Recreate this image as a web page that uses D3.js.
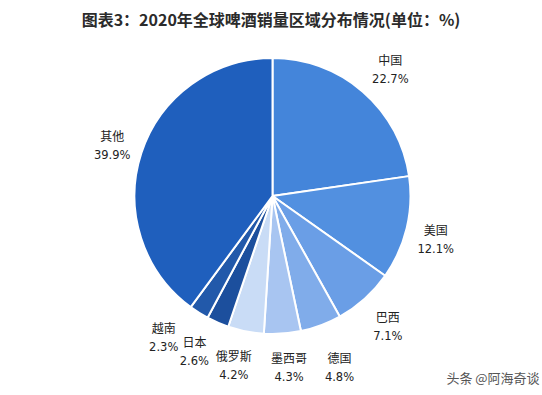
<!DOCTYPE html>
<html>
<head>
<meta charset="utf-8">
<script src="https://cdn.jsdelivr.net/npm/d3@7/dist/d3.min.js"></script>
<style>
html,body{margin:0;padding:0;background:#fff;}
svg{display:block;}
</style>
</head>
<body>
<svg id="chart" width="542" height="395"></svg>
<script>
const categories = ["中国","美国","巴西","德国","墨西哥","俄罗斯","日本","越南","其他"];
const values = [22.7, 12.1, 7.1, 4.8, 4.3, 4.2, 2.6, 2.3, 39.9];
const valueLabels = ["22.7%","12.1%","7.1%","4.8%","4.3%","4.2%","2.6%","2.3%","39.9%"];
const colors = ["#4485da","#5290e0","#6a9ee6","#80acea","#a8c5f1","#c9dcf6","#1c4f9d","#2259aa","#1f5fbd"];
// label nudges relative to the outer label arc centroid (layout only)
const labelNudge = [[4,5],[-6,2],[-1,1],[6,8],[4,-3],[-5,-2],[-9,-5],[-16,-6],[5,3]];
const title = "图表3：2020年全球啤酒销量区域分布情况(单位：%)";

const svg = d3.select("#chart");
const cx = 272.5, cy = 196, R = 138;

svg.append("text")
  .attr("x", 271).attr("y", 26)
  .attr("text-anchor", "middle")
  .attr("font-family", "'Noto Sans CJK SC', 'Noto Sans', sans-serif")
  .attr("font-weight", "bold")
  .attr("font-size", 16)
  .attr("fill", "#2b2b2b")
  .text(title);

const data = categories.map((c, i) => ({name: c, value: values[i], label: valueLabels[i], color: colors[i], nudge: labelNudge[i]}));
const pie = d3.pie().sort(null).value(d => d.value);
const arcs = pie(data);
const arc = d3.arc().innerRadius(0).outerRadius(R);
const labelArc = d3.arc().innerRadius(174).outerRadius(174);

const g = svg.append("g").attr("transform", `translate(${cx},${cy})`);
g.selectAll("path").data(arcs).join("path")
  .attr("d", arc)
  .attr("fill", d => d.data.color)
  .attr("stroke", "#fff")
  .attr("stroke-width", 2)
  .attr("stroke-linejoin", "round");

const lab = g.selectAll("g.lab").data(arcs).join("g").attr("class", "lab")
  .attr("transform", d => { const [x, y] = labelArc.centroid(d); return `translate(${x + d.data.nudge[0]},${y + d.data.nudge[1]})`; });
lab.append("text")
  .attr("text-anchor", "middle")
  .attr("y", -4)
  .attr("font-family", "'Noto Sans CJK SC', sans-serif")
  .attr("font-size", 12)
  .attr("fill", "#222")
  .text(d => d.data.name);
lab.append("text")
  .attr("text-anchor", "middle")
  .attr("y", 14)
  .attr("font-family", "'DejaVu Sans', sans-serif")
  .attr("font-size", 11.5)
  .attr("fill", "#222")
  .text(d => d.data.label);

svg.append("text")
  .attr("x", 493).attr("y", 383)
  .attr("text-anchor", "middle")
  .attr("font-family", "'Noto Sans CJK SC', sans-serif")
  .attr("font-size", 13)
  .attr("fill", "#555")
  .text("头条 @阿海奇谈");
</script>
</body>
</html>
